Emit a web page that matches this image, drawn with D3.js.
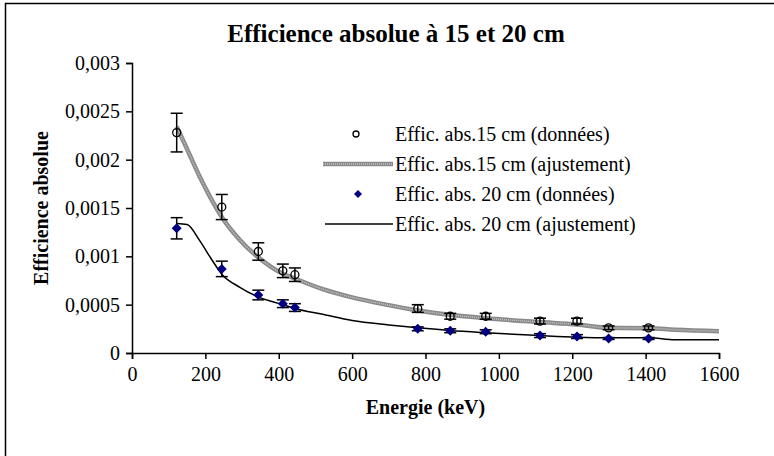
<!DOCTYPE html>
<html>
<head>
<meta charset="utf-8">
<script src="https://cdn.jsdelivr.net/npm/d3@7"></script>
<style>
  html, body { margin: 0; padding: 0; background: #fff; }
  svg { display: block; font-family: "Liberation Serif", "Times New Roman", serif; }
</style>
</head>
<body>
<svg id="chart" width="774" height="456"></svg>
<script>
// Eu-152 gamma lines (keV)
const energies = [121.8, 244.7, 344.3, 411.1, 444.0, 778.9, 867.4, 964.1, 1112.1, 1212.9, 1299.1, 1408.0];

// Measured absolute efficiency at 15 cm and 20 cm, with uncertainties
const eff15 = [0.00228, 0.00151, 0.00105, 0.00085, 0.00081, 0.00046, 0.00038, 0.00038, 0.00033, 0.00033, 0.00026, 0.00026];
const err15 = [0.00020, 0.00013, 0.00009, 0.00007, 0.00007, 0.00004, 0.00003, 0.00003, 0.00003, 0.00003, 0.00002, 0.00002];
const eff20 = [0.00129, 0.00087, 0.00060, 0.00051, 0.00047, 0.00025, 0.00023, 0.00022, 0.00018, 0.00017, 0.00015, 0.00015];
const err20 = [0.00011, 0.00008, 0.00005, 0.00004, 0.00004, 0.00002, 0.00002, 0.00002, 0.00002, 0.00002, 0.00001, 0.00001];

// Fitted curves
const fitEnergies = [122, 150, 185, 215, 246, 294, 344, 411, 444, 520, 600, 700, 779, 867, 964, 1112, 1213, 1299, 1408, 1480, 1600];
const fit15 = [0.00234, 0.00211, 0.00182, 0.00160, 0.00140, 0.00117, 0.00099, 0.00082, 0.00077, 0.00066, 0.000575, 0.000495, 0.00044, 0.000395, 0.00036, 0.00032, 0.000295, 0.00026, 0.000257, 0.00024, 0.000226];
const fit20 = [0.00134, 0.00133, 0.00116, 0.00098, 0.00081, 0.00068, 0.00058, 0.00050, 0.00046, 0.00040, 0.000336, 0.00029, 0.00026, 0.000233, 0.00021, 0.00018, 0.000163, 0.000157, 0.000157, 0.000137, 0.000137];

const xTicks = [0, 200, 400, 600, 800, 1000, 1200, 1400, 1600];
const yTicks = [0, 0.0005, 0.001, 0.0015, 0.002, 0.0025, 0.003];
const yTickLabels = ["0", "0,0005", "0,001", "0,0015", "0,002", "0,0025", "0,003"];

const legendLabels = [
  "Effic. abs.15 cm (données)",
  "Effic. abs.15 cm (ajustement)",
  "Effic. abs. 20 cm (données)",
  "Effic. abs. 20 cm (ajustement)"
];

const svg = d3.select("#chart");

// Outer chart frame
svg.append("rect")
  .attr("x", 5.5).attr("y", 3.5)
  .attr("width", 820).attr("height", 500)
  .attr("fill", "none").attr("stroke", "#000").attr("stroke-width", 1.5);

const x = d3.scaleLinear().domain([0, 1600]).range([132, 719]);
const y = d3.scaleLinear().domain([0, 0.003]).range([353, 63]);

// Title
svg.append("text")
  .attr("x", 396).attr("y", 42)
  .attr("text-anchor", "middle")
  .attr("font-size", 25).attr("font-weight", "bold")
  .text("Efficience absolue à 15 et 20 cm");

// Axes
const xAxis = d3.axisBottom(x).tickValues(xTicks).tickSize(6).tickPadding(8).tickFormat(d3.format("d"));
const yAxis = d3.axisLeft(y).tickValues(yTicks).tickSize(6).tickPadding(6)
  .tickFormat((d, i) => yTickLabels[i]);

const gx = svg.append("g").attr("transform", `translate(0,${y(0)})`).call(xAxis);
const gy = svg.append("g").attr("transform", `translate(${x(0)},0)`).call(yAxis);
[gx, gy].forEach(g => {
  g.select(".domain").attr("stroke", "#000").attr("stroke-width", 1.5);
  g.selectAll(".tick line").attr("stroke", "#000").attr("stroke-width", 1.5);
  g.selectAll(".tick text").attr("font-size", 20).attr("fill", "#000")
    .attr("font-family", "Liberation Serif, Times New Roman, serif");
});

// Axis titles
svg.append("text")
  .attr("x", x(800)).attr("y", 414)
  .attr("text-anchor", "middle")
  .attr("font-size", 20).attr("font-weight", "bold")
  .text("Energie (keV)");

svg.append("text")
  .attr("transform", `translate(48,${(y(0) + y(0.003)) / 2}) rotate(-90)`)
  .attr("text-anchor", "middle")
  .attr("font-size", 20).attr("font-weight", "bold")
  .text("Efficience absolue");

// Fitted curves
const line = d3.line().x(d => x(d[0])).y(d => y(d[1])).curve(d3.curveMonotoneX);
const pts15 = fitEnergies.map((e, i) => [e, fit15[i]]);
const pts20 = fitEnergies.map((e, i) => [e, fit20[i]]);

// Textured gray band used for the 15 cm fit
function grayBand(sel) {
  sel.append("path").attr("fill", "none").attr("stroke", "#8a8a8a").attr("stroke-width", 4.5);
  sel.append("path").attr("fill", "none").attr("stroke", "#c4c4c4").attr("stroke-width", 1.5)
    .attr("stroke-dasharray", "1,1");
}

const band = svg.append("g");
grayBand(band);
band.selectAll("path").attr("d", line(pts15));

svg.append("path")
  .attr("d", line(pts20))
  .attr("fill", "none").attr("stroke", "#000").attr("stroke-width", 1.5);

// Error bars
function errorBars(vals, errs) {
  const g = svg.append("g").attr("stroke", "#000").attr("stroke-width", 1.5);
  energies.forEach((e, i) => {
    const cx = x(e), top = y(vals[i] + errs[i]), bot = y(vals[i] - errs[i]);
    g.append("line").attr("x1", cx).attr("x2", cx).attr("y1", top).attr("y2", bot);
    g.append("line").attr("x1", cx - 6).attr("x2", cx + 6).attr("y1", top).attr("y2", top);
    g.append("line").attr("x1", cx - 6).attr("x2", cx + 6).attr("y1", bot).attr("y2", bot);
  });
}
errorBars(eff15, err15);
errorBars(eff20, err20);

// Data markers: navy diamonds (20 cm), open circles (15 cm)
svg.append("g").selectAll("path")
  .data(energies.map((e, i) => [e, eff20[i]]))
  .join("path")
  .attr("d", d3.symbol().type(d3.symbolSquare).size(50))
  .attr("transform", d => `translate(${x(d[0])},${y(d[1])}) rotate(45)`)
  .attr("fill", "#000080");

svg.append("g").selectAll("circle")
  .data(energies.map((e, i) => [e, eff15[i]]))
  .join("circle")
  .attr("cx", d => x(d[0])).attr("cy", d => y(d[1]))
  .attr("r", 4)
  .attr("fill", "none").attr("stroke", "#000").attr("stroke-width", 1.3);

// Legend
const legend = svg.append("g").attr("font-size", 20);
const rowY = [134, 164, 194, 224];
legend.selectAll("text")
  .data(legendLabels)
  .join("text")
  .attr("x", 395).attr("y", (d, i) => rowY[i])
  .attr("dy", "0.35em")
  .text(d => d);

legend.append("circle").attr("cx", 356).attr("cy", rowY[0]).attr("r", 3)
  .attr("fill", "none").attr("stroke", "#000").attr("stroke-width", 1.3);

const lg = legend.append("g");
grayBand(lg);
lg.selectAll("path").attr("d", `M323,${rowY[1]}H393`);

legend.append("path")
  .attr("d", d3.symbol().type(d3.symbolSquare).size(32))
  .attr("transform", `translate(358,${rowY[2]}) rotate(45)`)
  .attr("fill", "#000080");

legend.append("line").attr("x1", 325).attr("x2", 393)
  .attr("y1", rowY[3]).attr("y2", rowY[3])
  .attr("stroke", "#000").attr("stroke-width", 1.5);
</script>
</body>
</html>
